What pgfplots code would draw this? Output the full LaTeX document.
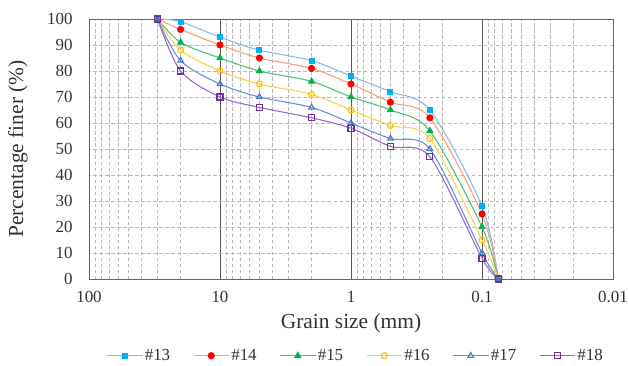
\documentclass[border=0pt]{standalone}
\usepackage{fontspec}
\setmainfont{Liberation Serif}
\usepackage{pgfplots}
\pgfplotsset{compat=1.18}
\definecolor{l13}{HTML}{8DB9E8}\definecolor{m13}{HTML}{00B0F0}
\definecolor{l14}{HTML}{F4A27A}\definecolor{m14}{HTML}{FF0000}
\definecolor{l15}{HTML}{4EC27A}\definecolor{m15}{HTML}{00B050}
\definecolor{l16}{HTML}{FFD04A}\definecolor{m16}{HTML}{FFC000}
\definecolor{l17}{HTML}{6A90D8}\definecolor{m17}{HTML}{4472C4}
\definecolor{l18}{HTML}{9C6ACB}\definecolor{m18}{HTML}{7030A0}
\begin{document}
\begin{tikzpicture}
\begin{axis}[
  name=ax,
  scale only axis, width=524bp, height=260bp,
  xmode=log, x dir=reverse,
  xmin=0.01, xmax=100, ymin=0, ymax=100,
  xtick={0.01,0.1,1,10,100}, xticklabels={0.01,0.1,1,10,100},
  minor xtick={0.02,0.03,0.04,0.05,0.06,0.07,0.08,0.09,0.2,0.3,0.4,0.5,0.6,0.7,0.8,0.9,2,3,4,5,6,7,8,9,20,30,40,50,60,70,80,90},
  ytick={0,10,...,100},
  major tick length=0pt, minor tick length=0pt,
  xmajorgrids, xminorgrids, ymajorgrids,
  major x grid style={black!65, solid, line width=0.9bp},
  minor x grid style={gray!55, dash pattern=on 3.5bp off 2.5bp, line width=0.8bp},
  major y grid style={gray!55, dash pattern=on 3.5bp off 2.5bp, line width=0.8bp},
  axis line style={black!60, line width=0.9bp},
  /pgf/number format/assume math mode=true,
  tick label style={font=\fontsize{17}{20}\selectfont, text=black!80},
  yticklabel style={xshift=-13bp},
  xticklabel style={yshift=-9bp},
  xlabel={Grain size (mm)}, ylabel={Percentage finer (\%)},
  label style={font=\fontsize{21.5}{24}\selectfont, text=black!80},
  xlabel style={at={(axis description cs:0.5,-0.169)}, anchor=center},
  ylabel style={at={(axis description cs:-0.1355,0.5)}, anchor=center},
  legend columns=6,
  legend style={at={(axis description cs:0.509,-0.295)}, anchor=center, draw=none,
    font=\fontsize{17}{20}\selectfont, text=black!80,
    nodes={inner xsep=2bp},
    /tikz/every even column/.append style={column sep=21bp}},
  legend image code/.code={\draw[mark repeat=2, mark phase=2] plot coordinates {(0bp,0bp) (17.5bp,0bp) (35bp,0bp)};},
  every axis plot/.append style={line width=1.1bp, smooth, tension=0.5},
  clip=false,
]
\addplot[l13, mark=square*, mark size=2.5bp, mark options={m13, fill=m13, solid}] coordinates {(30,100)(20,99)(10,93)(5,88)(2,84)(1,78)(0.5,72)(0.25,65)(0.1,28)(0.075,0)};
\addlegendentry{\#13}
\addplot[l14, mark=*, mark size=3bp, mark options={m14, fill=m14, solid}] coordinates {(30,100)(20,96)(10,90)(5,85)(2,81)(1,75)(0.5,68)(0.25,62)(0.1,25)(0.075,0)};
\addlegendentry{\#14}
\addplot[l15, mark=triangle*, mark size=3.3bp, mark options={m15, fill=m15, solid}] coordinates {(30,100)(20,91)(10,85)(5,80)(2,76)(1,70)(0.5,65)(0.25,57)(0.1,20)(0.075,0)};
\addlegendentry{\#15}
\addplot[l16, mark=o, mark size=3bp, mark options={m16, fill=white, solid, line width=1.1bp}] coordinates {(30,100)(20,88)(10,80)(5,75)(2,71)(1,65)(0.5,59)(0.25,54)(0.1,15)(0.075,0)};
\addlegendentry{\#16}
\addplot[l17, mark=triangle, mark size=3.3bp, mark options={m17, fill=white, solid, line width=1bp}] coordinates {(30,100)(20,84)(10,75)(5,70)(2,66)(1,60)(0.5,54)(0.25,50)(0.1,10)(0.075,0)};
\addlegendentry{\#17}
\addplot[l18, mark=square, mark size=3bp, mark options={m18, fill=white, solid, line width=1.1bp}] coordinates {(30,100)(20,80)(10,70)(5,66)(2,62)(1,58)(0.5,51)(0.25,47)(0.1,8)(0.075,0)};
\addlegendentry{\#18}
\end{axis}
\pgfresetboundingbox
\path[use as bounding box] ([xshift=-89bp,yshift=-87bp]ax.south west) rectangle ([xshift=16bp,yshift=19bp]ax.north east);
\end{tikzpicture}
\end{document}
